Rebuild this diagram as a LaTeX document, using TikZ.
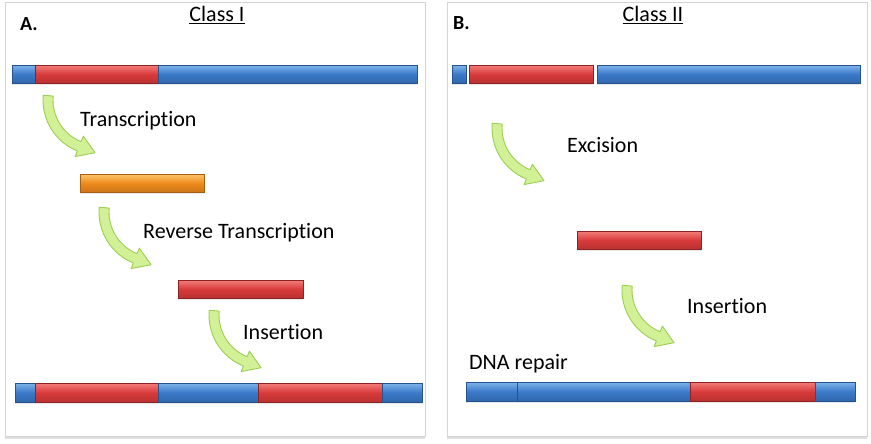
\documentclass[tikz,border=0pt]{standalone}
\usepackage{fontspec}
\setmainfont{Carlito}[Ligatures=NoCommon]
\usetikzlibrary{calc,shadows}
\definecolor{dnablue}{HTML}{3A79C8}
\definecolor{dnabluelt}{HTML}{7DB2EA}
\definecolor{dnabluedk}{HTML}{24538F}
\definecolor{tered}{HTML}{D83A3A}
\definecolor{teredlt}{HTML}{F27C78}
\definecolor{tereddk}{HTML}{8E2222}
\definecolor{rnaor}{HTML}{EE8A1C}
\definecolor{rnaorlt}{HTML}{FAC468}
\definecolor{rnaordk}{HTML}{A85E10}
\definecolor{arrfill}{HTML}{D2F196}
\definecolor{arrline}{HTML}{9CCE55}
\definecolor{frameline}{HTML}{D4D4D4}

\begin{document}
\begin{tikzpicture}[x=1pt, y=-1pt, font=\fontsize{22}{26}\selectfont,
    seg/.style={rectangle, inner sep=0pt, anchor=north west,
                minimum height=18pt, line width=0.6pt,
                drop shadow={opacity=0.18, shadow xshift=0pt, shadow yshift=-2pt}},
    blueseg/.style={seg, draw=dnabluedk, top color=dnabluelt,
                    bottom color=dnablue!85!black, middle color=dnablue},
    redseg/.style={seg, draw=tereddk, top color=teredlt,
                   bottom color=tered!85!black, middle color=tered},
    orangeseg/.style={seg, draw=rnaordk, top color=rnaorlt,
                      bottom color=rnaor!85!black, middle color=rnaor},
    panel/.style={rectangle, draw=frameline, fill=white, anchor=north west,
                  minimum width=420pt, minimum height=434pt,
                  drop shadow={opacity=0.25, shadow xshift=0pt, shadow yshift=-3pt}},
    lbl/.style={anchor=base west, inner sep=0pt},
    pics/bendarrow/.style={code={
        \filldraw[fill=arrfill, draw=arrline, line width=0.9pt, line join=round]
            (185:55) arc[start angle=185, end angle=112, radius=55]
            -- (112:61) -- ($(112:50)+(22:17)$) -- (112:39) -- (112:45)
            arc[start angle=112, end angle=185, radius=45] -- cycle;
    }}]
    \useasboundingbox (0,0) rectangle (871,444);
    %% panels
    \node[panel] (panA) at (5,2) {};
    \node[panel] (panB) at (447,2) {};
    \node[lbl, font=\fontsize{20}{24}\selectfont\bfseries] (labA) at (20,31) {A.};
    \node[lbl, font=\fontsize{20}{24}\selectfont\bfseries] (labB) at (453,30) {B.};
    \node[anchor=base, inner sep=0pt] (clsA) at (217,22) {\underline{Class I}};
    \node[anchor=base, inner sep=0pt] (clsB) at (653,22) {\underline{Class II}};
    %% class I: donor DNA
    \node[blueseg, minimum width=23] (a1) at (12,65) {};
    \node[redseg, minimum width=123] (a2) at (35,65) {};
    \node[blueseg, minimum width=259] (a3) at (158,65) {};
    \pic at (98,100) {bendarrow};
    \node[lbl] (trA) at (80,127) {Transcription};
    \node[orangeseg, minimum width=124] (rna) at (80,174) {};
    \pic at (154,212) {bendarrow};
    \node[lbl] (rtA) at (143,238) {Reverse Transcription};
    \node[redseg, minimum width=125] (cdna) at (178,280) {};
    \pic at (264,315) {bendarrow};
    \node[lbl] (insA) at (243,339) {Insertion};
    %% class I: target DNA
    \node[blueseg, minimum width=20, minimum height=19] (b1) at (15,383) {};
    \node[redseg, minimum width=123, minimum height=19] (b2) at (35,383) {};
    \node[blueseg, minimum width=100, minimum height=19] (b3) at (158,383) {};
    \node[redseg, minimum width=124, minimum height=19] (b4) at (258,383) {};
    \node[blueseg, minimum width=40, minimum height=19] (b5) at (382,383) {};
    %% class II: donor DNA
    \node[blueseg, minimum width=14] (c1) at (452,65) {};
    \node[redseg, minimum width=124] (c2) at (469,65) {};
    \node[blueseg, minimum width=263] (c3) at (597,65) {};
    \pic at (547,128) {bendarrow};
    \node[lbl] (excB) at (567,152) {Excision};
    \node[redseg, minimum width=124] (tn) at (577,231) {};
    \pic at (677,290) {bendarrow};
    \node[lbl] (insB) at (687,313) {Insertion};
    \node[lbl] (rep) at (469,369) {DNA repair};
    %% class II: target DNA
    \node[blueseg, minimum width=51, minimum height=19] (d1) at (466,382) {};
    \node[blueseg, minimum width=173, minimum height=19] (d2) at (517,382) {};
    \node[redseg, minimum width=125, minimum height=19] (d3) at (690,382) {};
    \node[blueseg, minimum width=40, minimum height=19] (d4) at (815,382) {};
\end{tikzpicture}
\end{document}
